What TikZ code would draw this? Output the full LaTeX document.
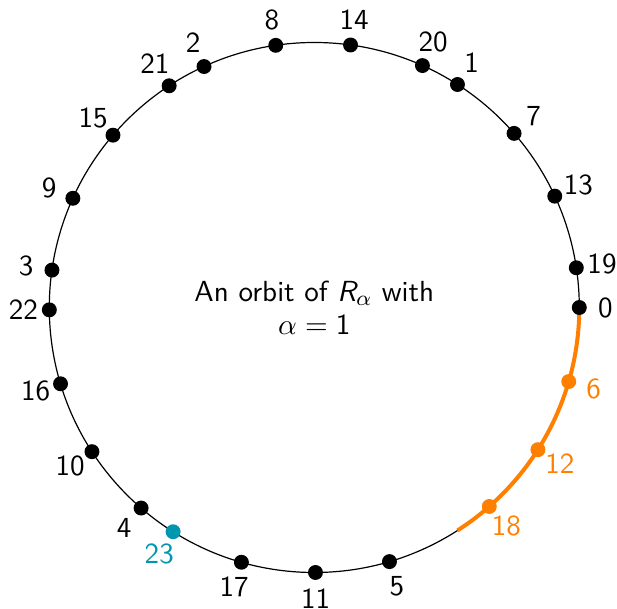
\documentclass[tikz,border=0pt]{standalone}
\usetikzlibrary{calc}
\definecolor{myorange}{RGB}{255,127,0}
\definecolor{myteal}{RGB}{0,150,175}
\begin{document}
\begin{tikzpicture}[x=0.375pt,y=0.375pt,font=\sffamily\fontsize{10.9}{12.3}\selectfont,
  dot/.style={circle,fill=#1,inner sep=0pt,minimum size=5.6pt},
  lab/.style={text=#1,inner sep=0pt}]
\useasboundingbox (0,0) rectangle (617,609);
\coordinate (c) at (314.3,301.5);
\draw[line width=0.45pt] (c) circle[radius=265];
\draw[myorange,line width=1.5pt] ($(c)+(0:265)$) arc[start angle=0,end angle=-57.2958,radius=265];
\node[align=center] (title) at (c) {An orbit of $\textsf{\itshape R}_\alpha$ with\\ $\alpha=\mathsf{1}$};
\foreach \n in {0,1,2,3,4,5,7,8,9,10,11,13,14,15,16,17,19,20,21,22}{
  \node[dot=black] (p\n) at ($(c)+({\n*57.2958}:265)$) {};
  \node[lab=black] (l\n) at ($(c)+({\n*57.2958}:291)$) {\n};
}
\foreach \n in {6,12,18}{
  \node[dot=myorange] (p\n) at ($(c)+({\n*57.2958}:265)$) {};
  \node[lab=myorange] (l\n) at ($(c)+({\n*57.2958}:291)$) {\n};
}
\node[dot=myteal] (p23) at ($(c)+({23*57.2958}:265)$) {};
\node[lab=myteal] (l23) at ($(c)+({23*57.2958}:291)$) {23};
\end{tikzpicture}
\end{document}
